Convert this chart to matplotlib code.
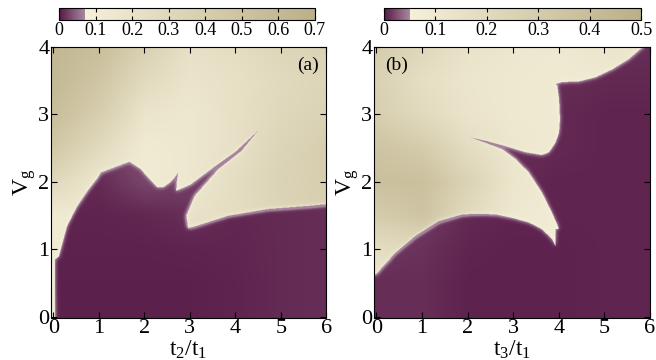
import numpy as np
import matplotlib
matplotlib.use("Agg")
import matplotlib.pyplot as plt
from matplotlib.colors import LinearSegmentedColormap
from matplotlib.path import Path

plt.rcParams['font.family'] = ['Liberation Serif', 'DejaVu Serif']
plt.rcParams['mathtext.fontset'] = 'custom'
plt.rcParams['mathtext.rm'] = 'Liberation Serif'
plt.rcParams['mathtext.it'] = 'Liberation Serif:italic'

# coarse grid nodes (t/t1 along x, Vg along y)
t_nodes = [0, 1, 2, 3, 4, 5, 6]
vg_nodes = [0, 0.5, 1.0, 1.5, 2.0, 2.5, 3.0, 3.5, 4.0]

# panel (a): values outside the dark region
bg_a = [
    [0.15, 0.15, 0.15, 0.15, 0.15, 0.15, 0.15],
    [0.12, 0.15, 0.20, 0.25, 0.30, 0.35, 0.38],
    [0.12, 0.15, 0.20, 0.25, 0.30, 0.35, 0.38],
    [0.12, 0.15, 0.15, 0.20, 0.25, 0.33, 0.38],
    [0.30, 0.15, 0.12, 0.15, 0.25, 0.35, 0.40],
    [0.45, 0.28, 0.12, 0.15, 0.22, 0.33, 0.40],
    [0.55, 0.40, 0.18, 0.15, 0.22, 0.30, 0.35],
    [0.60, 0.48, 0.28, 0.18, 0.22, 0.28, 0.33],
    [0.62, 0.55, 0.38, 0.22, 0.25, 0.32, 0.35],
]
# panel (a): values inside the dark region
low_a = [
    [0.006, 0.006, 0.006, 0.006, 0.008, 0.012, 0.014],
    [0.006, 0.006, 0.006, 0.006, 0.008, 0.012, 0.014],
    [0.007, 0.007, 0.007, 0.008, 0.009, 0.012, 0.014],
    [0.008, 0.008, 0.010, 0.015, 0.010, 0.012, 0.014],
    [0.010, 0.012, 0.030, 0.025, 0.015, 0.014, 0.015],
    [0.020, 0.025, 0.035, 0.025, 0.020, 0.020, 0.020],
    [0.030, 0.030, 0.030, 0.030, 0.030, 0.030, 0.030],
    [0.030, 0.030, 0.030, 0.030, 0.030, 0.030, 0.030],
    [0.030, 0.030, 0.030, 0.030, 0.030, 0.030, 0.030],
]
edge_a_t = [0.02, 0.02, 0.11, 0.29, 0.51, 0.74, 0.96, 1.03, 1.66, 1.91, 2.06,
            2.28, 2.40, 2.55, 2.66, 2.73, 2.70, 2.69, 3.00, 3.50, 4.00, 4.49,
            4.12, 3.61, 3.09, 2.91, 2.95, 3.09, 3.83, 4.71, 5.67, 6.10, 6.10, 0.02]
edge_a_v = [-0.10, 0.84, 0.89, 1.34, 1.63, 1.86, 2.05, 2.13, 2.29, 2.18, 2.06,
            1.91, 1.91, 1.98, 2.06, 2.13, 1.98, 1.86, 1.95, 2.20, 2.44, 2.75,
            2.45, 2.18, 1.78, 1.49, 1.31, 1.33, 1.49, 1.59, 1.64, 1.67, -0.10, -0.10]

# panel (b)
bg_b = [
    [0.20, 0.15, 0.10, 0.08, 0.08, 0.08, 0.08],
    [0.12, 0.12, 0.10, 0.08, 0.08, 0.08, 0.08],
    [0.18, 0.20, 0.12, 0.09, 0.08, 0.08, 0.08],
    [0.30, 0.35, 0.20, 0.10, 0.08, 0.08, 0.08],
    [0.38, 0.38, 0.25, 0.12, 0.09, 0.08, 0.08],
    [0.35, 0.30, 0.18, 0.11, 0.09, 0.08, 0.08],
    [0.28, 0.20, 0.13, 0.10, 0.09, 0.08, 0.08],
    [0.26, 0.17, 0.12, 0.10, 0.09, 0.10, 0.12],
    [0.30, 0.22, 0.14, 0.11, 0.10, 0.12, 0.12],
]
low_b = [
    [0.010, 0.010, 0.005, 0.005, 0.005, 0.006, 0.006],
    [0.010, 0.010, 0.005, 0.005, 0.005, 0.006, 0.006],
    [0.014, 0.012, 0.006, 0.005, 0.005, 0.006, 0.006],
    [0.020, 0.016, 0.008, 0.006, 0.006, 0.006, 0.006],
    [0.020, 0.020, 0.010, 0.008, 0.006, 0.006, 0.006],
    [0.020, 0.020, 0.015, 0.010, 0.008, 0.006, 0.006],
    [0.020, 0.020, 0.015, 0.010, 0.008, 0.006, 0.006],
    [0.020, 0.020, 0.015, 0.010, 0.010, 0.008, 0.008],
    [0.020, 0.020, 0.015, 0.010, 0.010, 0.010, 0.010],
]
edge_b_t = [-0.10, 0.00, 0.40, 0.84, 1.35, 1.87, 2.23, 2.60, 2.96, 3.33, 3.62, 3.84,
            3.91, 3.91, 3.99, 3.84, 3.62, 3.33, 3.04, 2.74, 2.38, 2.05, 2.38,
            2.82, 3.26, 3.62, 3.77, 3.91, 3.99, 4.01, 3.99, 3.95, 3.91, 4.06,
            4.43, 4.79, 5.16, 5.52, 5.74, 5.85, 6.10, 6.10, -0.10]
edge_b_v = [0.60, 0.64, 0.94, 1.19, 1.41, 1.51, 1.52, 1.51, 1.46, 1.39, 1.29, 1.14,
            1.04, 1.29, 1.30, 1.53, 1.83, 2.13, 2.33, 2.48, 2.57, 2.65, 2.60,
            2.52, 2.43, 2.39, 2.43, 2.57, 2.72, 2.92, 3.22, 3.42, 3.44, 3.47,
            3.48, 3.54, 3.66, 3.81, 3.94, 4.00, 4.10, -0.10, -0.10]

xlabels = [r'$\mathrm{t_2/t_1}$', r'$\mathrm{t_3/t_1}$']
tags = ['(a)', '(b)']
vmaxes = [0.7, 0.5]
cb_ticks = [[0, 0.1, 0.2, 0.3, 0.4, 0.5, 0.6, 0.7], [0, 0.1, 0.2, 0.3, 0.4, 0.5]]

cmap = LinearSegmentedColormap.from_list(
    'pc', [(0.0, '#561846'), (0.0999, '#a9879f'), (0.1, '#f5f0da'), (1.0, '#bbaf88')], N=1024)

T = np.linspace(-0.06, 6.0, 560)
V = np.linspace(-0.02, 4.0, 520)
TT, VV = np.meshgrid(T, V)


def grid_interp(vals):
    vals = np.asarray(vals)
    rows = np.array([np.interp(T, t_nodes, r) for r in vals])
    out = np.empty((len(V), len(T)))
    for j in range(len(T)):
        out[:, j] = np.interp(V, vg_nodes, rows[:, j])
    return out


def smooth(z, s):
    x = np.arange(-3 * s, 3 * s + 1)
    k = np.exp(-0.5 * (x / s) ** 2)
    k /= k.sum()
    p = len(k) // 2
    zp = np.pad(z, p, mode='edge')
    zp = np.apply_along_axis(lambda r: np.convolve(r, k, mode='same'), 1, zp)
    zp = np.apply_along_axis(lambda r: np.convolve(r, k, mode='same'), 0, zp)
    return zp[p:-p, p:-p]


def make_field(bg, low, et, ev, vmax):
    inside = Path(np.column_stack([et, ev])).contains_points(
        np.column_stack([TT.ravel(), VV.ravel()])).reshape(TT.shape)
    base = np.where(inside, grid_interp(low), grid_interp(bg))
    blur = smooth(base, 4)
    thr = 0.1 * vmax
    return np.where(inside, np.minimum(blur, thr * 0.97), np.maximum(blur, thr * 1.02))


fields = [make_field(bg_a, low_a, edge_a_t, edge_a_v, 0.7),
          make_field(bg_b, low_b, edge_b_t, edge_b_v, 0.5)]

fig = plt.figure(figsize=(6.56, 3.6), dpi=100)
ax_pos = [[0.0773, 0.1167, 0.4200, 0.7537], [0.5697, 0.1167, 0.4210, 0.7537]]
cb_pos = [[0.0900, 0.9440, 0.3900, 0.0333], [0.5854, 0.9440, 0.3918, 0.0333]]

for i in range(2):
    ax = fig.add_axes(ax_pos[i])
    im = ax.imshow(fields[i], extent=[-0.06, 6.0, -0.02, 4.0], origin='lower',
                   aspect='auto', cmap=cmap, vmin=0, vmax=vmaxes[i])
    ax.set_xlim(-0.06, 6.0)
    ax.set_ylim(-0.02, 4.0)
    ax.set_xticks(range(7))
    ax.set_yticks(range(5))
    ax.tick_params(direction='in', top=True, right=True, length=4, labelsize=16, pad=1)
    ax.set_xlabel(xlabels[i], fontsize=17, labelpad=0)
    ax.set_ylabel(r'$\mathrm{V_g}$', fontsize=17, labelpad=0)
    if i == 0:
        ax.text(5.6, 3.72, tags[i], fontsize=14, ha='center', va='center')
    else:
        ax.text(0.45, 3.72, tags[i], fontsize=14, ha='center', va='center')

    cax = fig.add_axes(cb_pos[i])
    cb = fig.colorbar(im, cax=cax, orientation='horizontal', ticks=cb_ticks[i])
    cb.ax.tick_params(direction='in', top=True, bottom=True, length=3, labelsize=13, pad=1)
    cb.ax.set_xticklabels([f'{v:g}' for v in cb_ticks[i]])
    cb.outline.set_linewidth(0.8)

fig.savefig('out.png', dpi=100)
